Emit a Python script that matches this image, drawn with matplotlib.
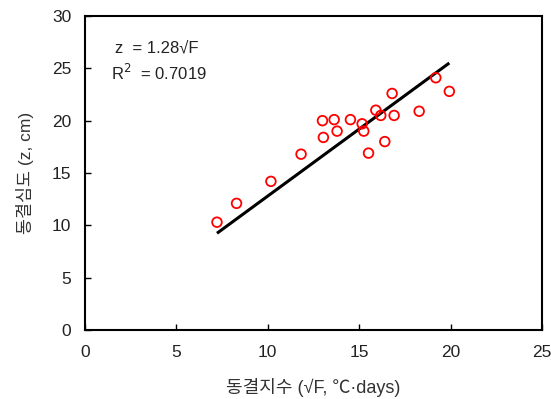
import numpy as np
import matplotlib.pyplot as plt

plt.rcParams['font.family'] = ['Liberation Sans', 'Noto Sans CJK KR', 'DejaVu Sans']

# 동결지수 (sqrt F) 와 동결심도 측정값
sqrt_f = [7.22, 8.29, 10.17, 11.82, 12.99, 13.04, 13.63, 13.79, 14.52, 15.16,
          15.25, 15.51, 15.91, 16.18, 16.40, 16.80, 16.91, 18.28, 19.19, 19.93]
depth = [10.3, 12.1, 14.2, 16.8, 20.0, 18.4, 20.1, 19.0, 20.1, 19.7,
         19.0, 16.9, 21.0, 20.5, 18.0, 22.6, 20.5, 20.9, 24.1, 22.8]
coef = 1.28

xticks = [0, 5, 10, 15, 20, 25]
yticks = [0, 5, 10, 15, 20, 25, 30]

fig = plt.figure(figsize=(5.51, 3.99), dpi=100)
ax = fig.add_axes([85/551, 1 - 330/399, 457/551, 314/399])

xl = np.array([min(sqrt_f), max(sqrt_f)])
ax.plot(xl, coef * xl, color='black', lw=2.2, solid_capstyle='butt', zorder=2)
ax.scatter(sqrt_f, depth, s=48, facecolors='none', edgecolors='#ff0000',
           linewidths=1.3, zorder=3)

ax.set_xlim(0, 25)
ax.set_ylim(0, 30)
ax.set_xticks(xticks)
ax.set_yticks(yticks)
ax.tick_params(direction='in', length=4, width=1, labelsize=12.5,
               labelcolor='#222222')
ax.tick_params(axis='x', pad=11)
ax.tick_params(axis='y', pad=10)
for s in ax.spines.values():
    s.set_linewidth(1.5)

ax.set_xlabel('동결지수 (√F, ℃·days)', fontsize=13, color='#333333', labelpad=13)
ax.set_ylabel('동결심도 (z, cm)', fontsize=12.5, color='#333333', labelpad=13)

ax.text(1.62, 26.9, 'z  = 1.28√F', fontsize=12, color='#222222', va='center')
ax.text(1.4, 24.6, 'R$^2$  = 0.7019', fontsize=12, color='#222222', va='center')

fig.savefig('out.png', dpi=100)
